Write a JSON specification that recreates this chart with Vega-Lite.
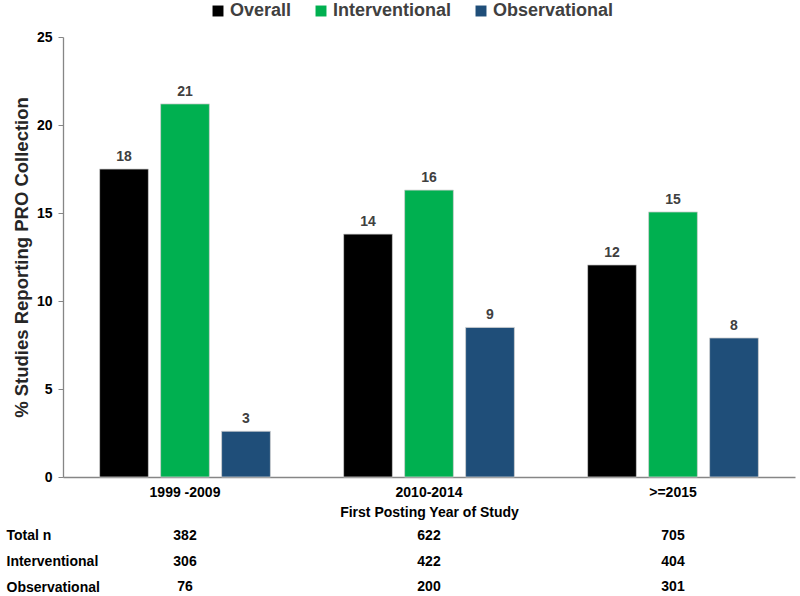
{
  "$schema": "https://vega.github.io/schema/vega-lite/v6.json",
  "padding": {"left": 6, "top": 2, "right": 7, "bottom": 0},
  "background": "white",
  "spacing": 4,
  "config": {
    "font": "Liberation Sans",
    "view": {"stroke": null}
  },
  "datasets": {
    "bars": [
      {"period": "1999 -2009", "type": "Overall", "pct": 17.5, "label": "18"},
      {"period": "1999 -2009", "type": "Interventional", "pct": 21.2, "label": "21"},
      {"period": "1999 -2009", "type": "Observational", "pct": 2.6, "label": "3"},
      {"period": "2010-2014", "type": "Overall", "pct": 13.8, "label": "14"},
      {"period": "2010-2014", "type": "Interventional", "pct": 16.3, "label": "16"},
      {"period": "2010-2014", "type": "Observational", "pct": 8.5, "label": "9"},
      {"period": ">=2015", "type": "Overall", "pct": 12.05, "label": "12"},
      {"period": ">=2015", "type": "Interventional", "pct": 15.06, "label": "15"},
      {"period": ">=2015", "type": "Observational", "pct": 7.9, "label": "8"}
    ],
    "table": [
      {"period": "1999 -2009", "row": "Total n", "n": "382"},
      {"period": "2010-2014", "row": "Total n", "n": "622"},
      {"period": ">=2015", "row": "Total n", "n": "705"},
      {"period": "1999 -2009", "row": "Interventional", "n": "306"},
      {"period": "2010-2014", "row": "Interventional", "n": "422"},
      {"period": ">=2015", "row": "Interventional", "n": "404"},
      {"period": "1999 -2009", "row": "Observational", "n": "76"},
      {"period": "2010-2014", "row": "Observational", "n": "200"},
      {"period": ">=2015", "row": "Observational", "n": "301"}
    ]
  },
  "vconcat": [
    {
      "width": 732,
      "height": 440,
      "data": {"name": "bars"},
      "encoding": {
        "x": {
          "field": "period", "type": "nominal",
          "sort": ["1999 -2009", "2010-2014", ">=2015"],
          "scale": {"paddingInner": 0, "paddingOuter": 0},
          "axis": {
            "title": "First Posting Year of Study",
            "titleFont": "Liberation Sans", "titleFontSize": 14, "titleFontWeight": "bold",
            "titleColor": "#000000", "titlePadding": 6,
            "labelAngle": 0, "labelFont": "Liberation Sans", "labelFontSize": 14, "labelFontWeight": "bold",
            "labelColor": "#000000", "labelPadding": 8,
            "ticks": false, "domainColor": "#868686", "domainWidth": 1.3
          }
        },
        "xOffset": {
          "field": "type", "type": "nominal",
          "sort": ["Overall", "Interventional", "Observational"],
          "scale": {"paddingInner": 0.2, "paddingOuter": 0.6}
        },
        "y": {
          "field": "pct", "type": "quantitative",
          "scale": {"domain": [0, 25]},
          "axis": {
            "title": "% Studies Reporting PRO Collection",
            "titleFont": "Liberation Sans", "titleFontSize": 18.5, "titleFontWeight": "bold",
            "titleColor": "#262626", "titlePadding": 5,
            "values": [0, 5, 10, 15, 20, 25], "grid": false,
            "labelFont": "Liberation Sans", "labelFontSize": 14, "labelFontWeight": "bold",
            "labelColor": "#000000", "labelPadding": 6,
            "tickSize": 5, "tickColor": "#868686", "domainColor": "#868686", "domainWidth": 1.3
          }
        }
      },
      "layer": [
        {
          "mark": {"type": "bar", "stroke": "#d0d0d0", "strokeWidth": 0.8},
          "encoding": {
            "color": {
              "field": "type", "type": "nominal",
              "sort": ["Overall", "Interventional", "Observational"],
              "scale": {"domain": ["Overall", "Interventional", "Observational"], "range": ["#000000", "#00B050", "#1F4E79"]},
              "legend": {
                "orient": "none", "legendX": 146, "legendY": -35,
                "direction": "horizontal", "title": null,
                "symbolType": "square", "symbolSize": 120, "symbolStrokeWidth": 0,
                "labelFont": "Liberation Sans", "labelFontSize": 18, "labelFontWeight": "bold",
                "labelColor": "#404040", "columnPadding": 20, "labelOffset": 3
              }
            }
          }
        },
        {
          "mark": {"type": "text", "dy": -12, "font": "Liberation Sans", "fontSize": 14, "fontWeight": "bold", "color": "#404040"},
          "encoding": {"text": {"field": "label"}}
        }
      ]
    },
    {
      "width": 732,
      "height": 77,
      "data": {"name": "table"},
      "mark": {"type": "text", "font": "Liberation Sans", "fontSize": 14, "fontWeight": "bold", "color": "#000000"},
      "encoding": {
        "x": {
          "field": "period", "type": "nominal",
          "sort": ["1999 -2009", "2010-2014", ">=2015"],
          "scale": {"paddingInner": 0, "paddingOuter": 0},
          "axis": null
        },
        "y": {
          "field": "row", "type": "nominal",
          "sort": ["Total n", "Interventional", "Observational"],
          "scale": {"paddingInner": 0, "paddingOuter": 0},
          "axis": {
            "title": null, "domain": false, "ticks": false,
            "labelAlign": "left", "labelPadding": 57,
            "labelFont": "Liberation Sans", "labelFontSize": 14, "labelFontWeight": "bold",
            "labelColor": "#000000"
          }
        },
        "text": {"field": "n"}
      }
    }
  ]
}
